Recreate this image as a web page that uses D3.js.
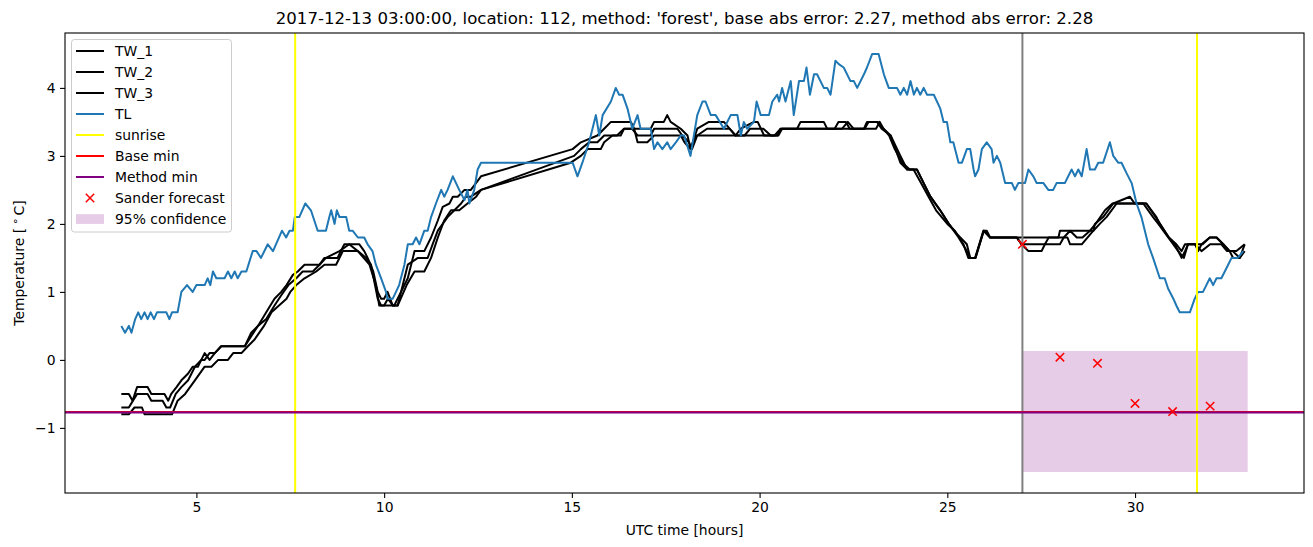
<!DOCTYPE html>
<html>
<head>
<meta charset="utf-8">
<script src="https://cdn.jsdelivr.net/npm/d3@7"></script>
<style>
  body { margin: 0; background: #fff; }
  svg text { font-family: "DejaVu Sans", sans-serif; fill: #000; }
</style>
</head>
<body>
<div id="chart-area"></div>
<script>
// data: [hour, temperature]
const tw1 = [[3.0,-0.5],[3.2,-0.5],[3.3,-0.6],[3.42,-0.4],[3.7,-0.4],[3.8,-0.5],[4.15,-0.5],[4.25,-0.6],[4.33,-0.5],[4.47,-0.4],[4.6,-0.3],[4.78,-0.2],[4.9,-0.1],[5.04,-0.1],[5.13,0.0],[5.22,0.1],[5.35,0.0],[5.49,0.1],[5.66,0.2],[6.29,0.2],[6.46,0.4],[6.64,0.5],[6.86,0.7],[7.08,0.9],[7.26,1.0],[7.4,1.1],[7.57,1.25],[7.7,1.3],[7.88,1.4],[8.28,1.4],[8.41,1.5],[8.76,1.5],[8.94,1.7],[9.34,1.7],[9.47,1.6],[9.56,1.5],[9.71,1.3],[9.83,1.0],[9.92,0.9],[10.0,0.9],[10.09,1.0],[10.23,0.8],[10.36,0.8],[10.45,1.0],[10.63,1.2],[10.81,1.6],[11.07,1.6],[11.25,1.8],[11.43,2.05],[11.56,2.25],[11.74,2.3],[11.83,2.4],[11.96,2.4],[12.14,2.5],[12.31,2.5],[12.58,2.7],[15.02,3.1],[15.24,3.2],[15.68,3.3],[15.86,3.4],[16.04,3.5],[16.57,3.5],[16.66,3.4],[17.1,3.4],[17.19,3.5],[17.45,3.5],[17.54,3.6],[17.63,3.5],[17.9,3.4],[18.08,3.3],[18.16,3.1],[18.34,3.4],[18.65,3.5],[19.05,3.5],[19.2,3.4],[19.36,3.3],[19.5,3.4],[19.85,3.5],[19.95,3.5],[20.12,3.3],[20.47,3.3],[20.56,3.4],[21.0,3.4],[21.09,3.5],[21.71,3.5],[21.8,3.4],[22.0,3.4],[22.1,3.5],[22.3,3.5],[22.4,3.4],[22.78,3.4],[22.86,3.5],[23.13,3.5],[23.25,3.4],[23.49,3.3],[23.75,2.9],[23.93,2.8],[24.19,2.8],[24.37,2.6],[24.55,2.4],[24.81,2.2],[25.04,2.0],[25.26,1.85],[25.52,1.7],[25.61,1.5],[25.75,1.5],[25.97,1.9],[26.14,1.8],[27.96,1.8],[28.0,1.9],[28.89,1.9],[28.93,2.0],[29.15,2.1],[29.42,2.3],[29.86,2.4],[29.99,2.3],[30.3,2.3],[30.57,2.1],[30.66,2.0],[30.9,1.8],[31.06,1.7],[31.24,1.5],[31.33,1.6],[31.41,1.7],[31.6,1.7],[31.68,1.6],[31.77,1.7],[31.99,1.8],[32.17,1.8],[32.35,1.7],[32.52,1.6],[32.61,1.5],[32.79,1.5],[32.92,1.7]];

const tw2 = [[3.0,-0.7],[3.2,-0.7],[3.42,-0.5],[3.7,-0.5],[3.8,-0.6],[4.1,-0.6],[4.2,-0.7],[4.3,-0.7],[4.45,-0.5],[4.6,-0.4],[4.78,-0.3],[4.96,-0.1],[5.13,0.0],[5.22,0.0],[5.35,0.1],[5.49,0.1],[5.66,0.2],[6.29,0.2],[6.46,0.35],[6.64,0.5],[6.86,0.6],[7.08,0.8],[7.26,0.95],[7.45,1.1],[7.66,1.2],[7.83,1.3],[8.1,1.3],[8.28,1.4],[8.45,1.5],[8.81,1.6],[9.07,1.7],[9.3,1.6],[9.52,1.5],[9.65,1.4],[9.83,0.9],[9.92,0.8],[10.1,0.8],[10.27,0.8],[10.45,1.0],[10.63,1.4],[10.9,1.5],[11.16,1.5],[11.29,1.7],[11.43,1.9],[11.69,2.1],[11.87,2.2],[12.05,2.3],[12.18,2.4],[12.31,2.4],[12.58,2.5],[15.06,3.0],[15.24,3.1],[15.46,3.2],[15.68,3.2],[15.86,3.3],[16.2,3.3],[16.39,3.4],[16.6,3.4],[16.75,3.3],[17.1,3.3],[17.19,3.4],[17.81,3.4],[17.94,3.3],[18.12,3.2],[18.2,3.1],[18.34,3.3],[18.6,3.4],[19.2,3.4],[19.36,3.3],[19.6,3.3],[19.75,3.4],[20.1,3.4],[20.3,3.3],[20.5,3.3],[20.6,3.4],[22.8,3.4],[22.9,3.5],[23.15,3.5],[23.3,3.4],[23.49,3.3],[23.75,3.0],[23.93,2.8],[24.19,2.8],[24.37,2.6],[24.55,2.4],[24.81,2.2],[25.04,2.0],[25.3,1.8],[25.52,1.6],[25.61,1.5],[25.75,1.5],[25.97,1.9],[26.14,1.8],[26.85,1.8],[26.98,1.7],[27.16,1.6],[27.51,1.6],[27.6,1.7],[28.0,1.7],[28.1,1.8],[28.2,1.8],[28.27,1.7],[28.58,1.7],[28.89,1.9],[29.06,2.0],[29.24,2.1],[29.51,2.3],[30.22,2.3],[30.48,2.1],[30.62,2.0],[31.02,1.7],[31.15,1.6],[31.3,1.5],[31.41,1.7],[31.6,1.7],[31.77,1.6],[32.0,1.7],[32.3,1.7],[32.45,1.6],[32.6,1.6],[32.79,1.5],[32.92,1.6]];

const tw3 = [[3.0,-0.8],[3.2,-0.8],[3.35,-0.7],[3.55,-0.7],[3.62,-0.8],[4.35,-0.8],[4.5,-0.6],[4.7,-0.5],[4.96,-0.3],[5.22,-0.1],[5.4,-0.1],[5.58,0.0],[5.84,0.0],[5.98,0.1],[6.2,0.1],[6.37,0.2],[6.55,0.3],[6.8,0.5],[7.0,0.7],[7.2,0.8],[7.4,0.9],[7.5,1.0],[7.66,1.1],[7.88,1.2],[8.19,1.3],[8.41,1.4],[8.72,1.4],[8.9,1.6],[9.3,1.6],[9.61,1.4],[9.78,1.1],[9.87,0.8],[10.0,0.8],[10.1,0.9],[10.23,0.8],[10.36,0.8],[10.6,1.1],[10.81,1.3],[11.07,1.3],[11.25,1.5],[11.43,1.8],[11.6,2.05],[11.78,2.2],[12.0,2.2],[12.22,2.3],[12.45,2.4],[12.58,2.5],[14.97,2.9],[15.24,3.0],[15.42,3.1],[15.77,3.1],[15.86,3.2],[16.08,3.3],[16.3,3.3],[16.39,3.4],[16.66,3.4],[16.75,3.2],[17.01,3.2],[17.19,3.3],[17.9,3.3],[18.0,3.2],[18.16,3.1],[18.3,3.3],[20.4,3.3],[20.56,3.4],[22.2,3.4],[22.35,3.5],[22.5,3.4],[23.1,3.4],[23.2,3.5],[23.3,3.4],[23.45,3.3],[23.6,3.1],[23.8,2.9],[24.0,2.8],[24.1,2.8],[24.3,2.6],[24.5,2.4],[24.7,2.2],[25.0,2.0],[25.2,1.9],[25.43,1.7],[25.56,1.5],[25.74,1.5],[25.96,1.9],[26.05,1.9],[26.14,1.8],[26.85,1.8],[26.98,1.7],[27.6,1.7],[27.7,1.8],[28.1,1.8],[28.27,1.9],[28.45,1.8],[28.6,1.8],[28.8,1.9],[28.95,2.0],[29.2,2.2],[29.4,2.3],[30.3,2.3],[30.55,2.1],[30.9,1.8],[31.1,1.7],[31.24,1.6],[31.33,1.7],[31.8,1.7],[31.99,1.8],[32.17,1.8],[32.35,1.7],[32.52,1.6],[32.7,1.6],[32.92,1.7]];

const tl = [[3.0,0.5],[3.1,0.4],[3.2,0.5],[3.27,0.4],[3.37,0.6],[3.45,0.7],[3.53,0.6],[3.62,0.7],[3.7,0.6],[3.78,0.7],[3.87,0.6],[3.95,0.7],[4.2,0.7],[4.28,0.6],[4.35,0.7],[4.5,0.7],[4.6,1.0],[4.75,1.1],[4.9,1.0],[5.0,1.1],[5.22,1.1],[5.3,1.2],[5.37,1.1],[5.44,1.3],[5.53,1.2],[5.75,1.2],[5.84,1.3],[5.93,1.2],[6.02,1.3],[6.1,1.2],[6.2,1.3],[6.33,1.3],[6.5,1.6],[6.6,1.6],[6.72,1.5],[6.9,1.7],[7.04,1.6],[7.28,1.9],[7.39,1.8],[7.48,1.9],[7.57,1.9],[7.62,2.1],[7.74,2.1],[7.9,2.3],[8.05,2.2],[8.23,1.9],[8.45,1.9],[8.54,2.1],[8.59,2.2],[8.68,2.0],[8.74,2.2],[8.81,2.1],[8.99,2.1],[9.07,1.9],[9.16,1.9],[9.3,1.8],[9.47,1.8],[9.56,1.7],[9.69,1.6],[9.78,1.4],[9.92,1.2],[10.05,1.0],[10.09,0.9],[10.23,0.9],[10.4,1.1],[10.54,1.4],[10.63,1.7],[10.76,1.7],[10.85,1.8],[10.94,1.7],[11.07,1.9],[11.16,1.9],[11.25,2.1],[11.38,2.3],[11.52,2.5],[11.6,2.4],[11.69,2.5],[11.83,2.7],[12.0,2.5],[12.14,2.35],[12.22,2.5],[12.27,2.3],[12.4,2.5],[12.49,2.8],[12.58,2.9],[15.02,2.9],[15.15,2.7],[15.28,2.9],[15.46,3.2],[15.64,3.6],[15.73,3.3],[15.82,3.6],[16.04,3.8],[16.17,4.0],[16.26,3.9],[16.35,3.9],[16.48,3.7],[16.61,3.4],[16.75,3.6],[16.83,3.4],[17.1,3.4],[17.19,3.1],[17.28,3.2],[17.41,3.1],[17.54,3.2],[17.63,3.1],[17.77,3.2],[17.9,3.3],[17.99,3.3],[18.16,3.0],[18.34,3.6],[18.48,3.8],[18.56,3.8],[18.7,3.6],[18.83,3.6],[19.05,3.4],[19.23,3.6],[19.41,3.6],[19.5,3.3],[19.58,3.5],[19.67,3.4],[19.85,3.5],[19.92,3.8],[20.03,3.6],[20.25,3.6],[20.34,3.8],[20.47,3.9],[20.52,3.8],[20.6,4.0],[20.69,3.8],[20.83,4.1],[20.91,3.6],[21.05,4.1],[21.18,4.1],[21.25,4.3],[21.34,3.9],[21.45,4.2],[21.53,4.2],[21.71,4.0],[21.8,4.0],[21.89,3.9],[22.02,4.4],[22.11,4.35],[22.24,4.3],[22.42,4.1],[22.51,4.1],[22.6,4.0],[22.78,4.2],[22.86,4.3],[23.0,4.5],[23.17,4.5],[23.31,4.2],[23.44,4.0],[23.66,4.0],[23.75,3.9],[23.84,4.0],[23.93,3.9],[24.02,4.1],[24.11,3.9],[24.19,4.0],[24.28,3.9],[24.37,4.0],[24.46,3.9],[24.64,3.9],[24.81,3.7],[24.9,3.5],[24.99,3.5],[25.08,3.2],[25.16,3.2],[25.3,2.9],[25.39,2.9],[25.52,3.1],[25.61,3.1],[25.7,2.8],[25.74,2.7],[25.83,2.8],[25.92,3.1],[26.05,3.2],[26.18,3.1],[26.23,2.9],[26.32,3.0],[26.41,2.9],[26.54,2.6],[26.72,2.6],[26.8,2.5],[26.89,2.6],[27.07,2.6],[27.16,2.8],[27.29,2.7],[27.38,2.6],[27.56,2.6],[27.69,2.5],[27.82,2.5],[27.91,2.6],[28.13,2.6],[28.31,2.8],[28.4,2.7],[28.49,2.8],[28.58,2.7],[28.71,3.1],[28.8,2.8],[28.93,2.8],[29.02,2.9],[29.15,2.9],[29.33,3.2],[29.42,3.0],[29.55,2.9],[29.64,2.9],[29.77,2.75],[29.91,2.6],[30.04,2.3],[30.17,2.1],[30.35,1.7],[30.48,1.5],[30.66,1.2],[30.79,1.2],[30.88,1.05],[31.02,0.9],[31.1,0.8],[31.19,0.7],[31.46,0.7],[31.59,0.9],[31.68,1.0],[31.81,1.0],[31.9,1.1],[31.99,1.2],[32.08,1.1],[32.17,1.2],[32.3,1.2],[32.48,1.4],[32.57,1.5],[32.74,1.5],[32.88,1.6]];

const sunrise = [7.63, 31.65];
const forecastStart = 27.0;
const baseMin = -0.765;
const methodMin = -0.775;
const sanderHours = [27, 28, 29, 30, 31, 32];
const sanderValues = [1.7, 0.04, -0.05, -0.64, -0.76, -0.68];
const confHours = [27, 33];
const confLow = [-1.65, -1.65];
const confHigh = [0.13, 0.13];
const xTicks = [5, 10, 15, 20, 25, 30];
const yTicks = [-1, 0, 1, 2, 3, 4];
const legendLabels = ['TW_1', 'TW_2', 'TW_3', 'TL', 'sunrise', 'Base min', 'Method min', 'Sander forecast', '95% confidence'];
const titleText = "2017-12-13 03:00:00, location: 112, method: 'forest', base abs error: 2.27, method abs error: 2.28";

const margins = { top: 33, bottom: 54, left: 65, right: 9 };
const totalW = 1313, totalH = 547;
const width = totalW - margins.left - margins.right;
const height = totalH - margins.top - margins.bottom;
const tickFont = 13.9;

const root = d3.select('#chart-area').append('svg')
  .attr('width', totalW)
  .attr('height', totalH);
const svg = root.append('g')
  .attr('transform', `translate(${margins.left}, ${margins.top})`);

// matplotlib-style 5% margins
const allY = [...tw1, ...tw2, ...tw3, ...tl].map(d => d[1]).concat(confLow, confHigh);
const yMin = d3.min(allY), yMax = d3.max(allY);
const yPad = (yMax - yMin) * 0.05;
const xPad = (33 - 3) * 0.05;

const x = d3.scaleLinear().domain([3 - xPad, 33 + xPad]).range([0, width]);
const y = d3.scaleLinear().domain([yMin - yPad, yMax + yPad]).range([height, 0]);

svg.append('defs').append('clipPath').attr('id', 'clip')
  .append('rect').attr('width', width).attr('height', height);
const plot = svg.append('g').attr('clip-path', 'url(#clip)');

// confidence band (drawn under the lines)
const band = confHours.map((h, i) => ({ h, lo: confLow[i], hi: confHigh[i] }));
plot.append('path')
  .datum(band)
  .attr('fill', 'purple')
  .attr('fill-opacity', 0.2)
  .attr('d', d3.area().x(d => x(d.h)).y0(d => y(d.lo)).y1(d => y(d.hi)));

const line = d3.line().x(d => x(d[0])).y(d => y(d[1]));
[tw1, tw2, tw3].forEach(s => {
  plot.append('path').datum(s)
    .attr('fill', 'none').attr('stroke', 'black').attr('stroke-width', 2)
    .attr('stroke-linejoin', 'round')
    .attr('d', line);
});
plot.append('path').datum(tl)
  .attr('fill', 'none').attr('stroke', '#1f77b4').attr('stroke-width', 2)
  .attr('stroke-linejoin', 'round')
  .attr('d', line);

// vertical markers
plot.selectAll('.sunrise').data(sunrise).enter().append('line')
  .attr('class', 'sunrise')
  .attr('x1', d => x(d)).attr('x2', d => x(d))
  .attr('y1', 0).attr('y2', height)
  .attr('stroke', 'yellow').attr('stroke-width', 2);
plot.append('line')
  .attr('x1', x(forecastStart)).attr('x2', x(forecastStart))
  .attr('y1', 0).attr('y2', height)
  .attr('stroke', 'gray').attr('stroke-width', 2);

// horizontal minima
[[baseMin, 'red'], [methodMin, 'purple']].forEach(([v, c]) => {
  plot.append('line')
    .attr('x1', 0).attr('x2', width)
    .attr('y1', y(v)).attr('y2', y(v))
    .attr('stroke', c).attr('stroke-width', 2);
});

// sander forecast crosses
const cross = s => `M${-s},${-s}L${s},${s}M${-s},${s}L${s},${-s}`;
plot.selectAll('.sander').data(sanderHours).enter().append('path')
  .attr('class', 'sander')
  .attr('transform', (d, i) => `translate(${x(d)}, ${y(sanderValues[i])})`)
  .attr('d', cross(4.2))
  .attr('stroke', 'red').attr('stroke-width', 1.5).attr('fill', 'none');

// axes
const xAxis = svg.append('g')
  .attr('transform', `translate(0, ${height})`)
  .call(d3.axisBottom(x).tickValues(xTicks).tickSize(5).tickPadding(4.5).tickFormat(d3.format('d')));
const yAxis = svg.append('g')
  .call(d3.axisLeft(y).tickValues(yTicks).tickSize(5).tickPadding(4.5).tickFormat(d => d < 0 ? '\u2212' + Math.abs(d) : d));
[xAxis, yAxis].forEach(a => {
  a.select('.domain').remove();
  a.selectAll('.tick line').attr('stroke', 'black').attr('stroke-width', 1.1);
  a.selectAll('.tick text').attr('font-size', `${tickFont}px`).attr('font-family', 'DejaVu Sans').attr('fill', '#000');
});

// frame
svg.append('rect')
  .attr('width', width).attr('height', height)
  .attr('fill', 'none').attr('stroke', 'black').attr('stroke-width', 1.1);

// labels
svg.append('text')
  .attr('x', width / 2).attr('y', -9)
  .attr('text-anchor', 'middle')
  .attr('font-size', '16.6px')
  .text(titleText);
svg.append('text')
  .attr('x', width / 2).attr('y', height + 42)
  .attr('text-anchor', 'middle')
  .attr('font-size', `${tickFont}px`)
  .text('UTC time [hours]');
const yLabel = svg.append('text')
  .attr('transform', `translate(${-41}, ${height / 2}) rotate(-90)`)
  .attr('text-anchor', 'middle')
  .attr('font-size', `${tickFont}px`);
yLabel.append('tspan').text('Temperature [\u2009');
yLabel.append('tspan').attr('font-size', '11px').attr('dy', -5).text('\u2218');
yLabel.append('tspan').attr('dy', 5).text('\u2009C]');

// legend
const lg = svg.append('g').attr('transform', 'translate(6.5, 6.5)');
lg.append('rect')
  .attr('width', 160).attr('height', 192.5).attr('rx', 3)
  .attr('fill', 'white').attr('fill-opacity', 0.8)
  .attr('stroke', '#cccccc').attr('stroke-width', 1);
const handleStyle = [
  { type: 'line', color: 'black' },
  { type: 'line', color: 'black' },
  { type: 'line', color: 'black' },
  { type: 'line', color: '#1f77b4' },
  { type: 'line', color: 'yellow' },
  { type: 'line', color: 'red' },
  { type: 'line', color: 'purple' },
  { type: 'cross', color: 'red' },
  { type: 'patch', color: 'purple' }
];
legendLabels.forEach((label, i) => {
  const row = lg.append('g').attr('transform', `translate(0, ${11.5 + i * 21})`);
  const st = handleStyle[i];
  if (st.type === 'line') {
    row.append('line').attr('x1', 4.5).attr('x2', 32.5).attr('y1', 0).attr('y2', 0)
      .attr('stroke', st.color).attr('stroke-width', 2);
  } else if (st.type === 'cross') {
    row.append('path').attr('transform', 'translate(18.5, 0)').attr('d', cross(4.2))
      .attr('stroke', st.color).attr('stroke-width', 1.5).attr('fill', 'none');
  } else {
    row.append('rect').attr('x', 4.5).attr('y', -4.8).attr('width', 28).attr('height', 9.7)
      .attr('fill', st.color).attr('fill-opacity', 0.2);
  }
  row.append('text').attr('x', 43.5).attr('y', 0).attr('dy', '0.35em')
    .attr('font-size', `${tickFont}px`)
    .text(label);
});
</script>
</body>
</html>
